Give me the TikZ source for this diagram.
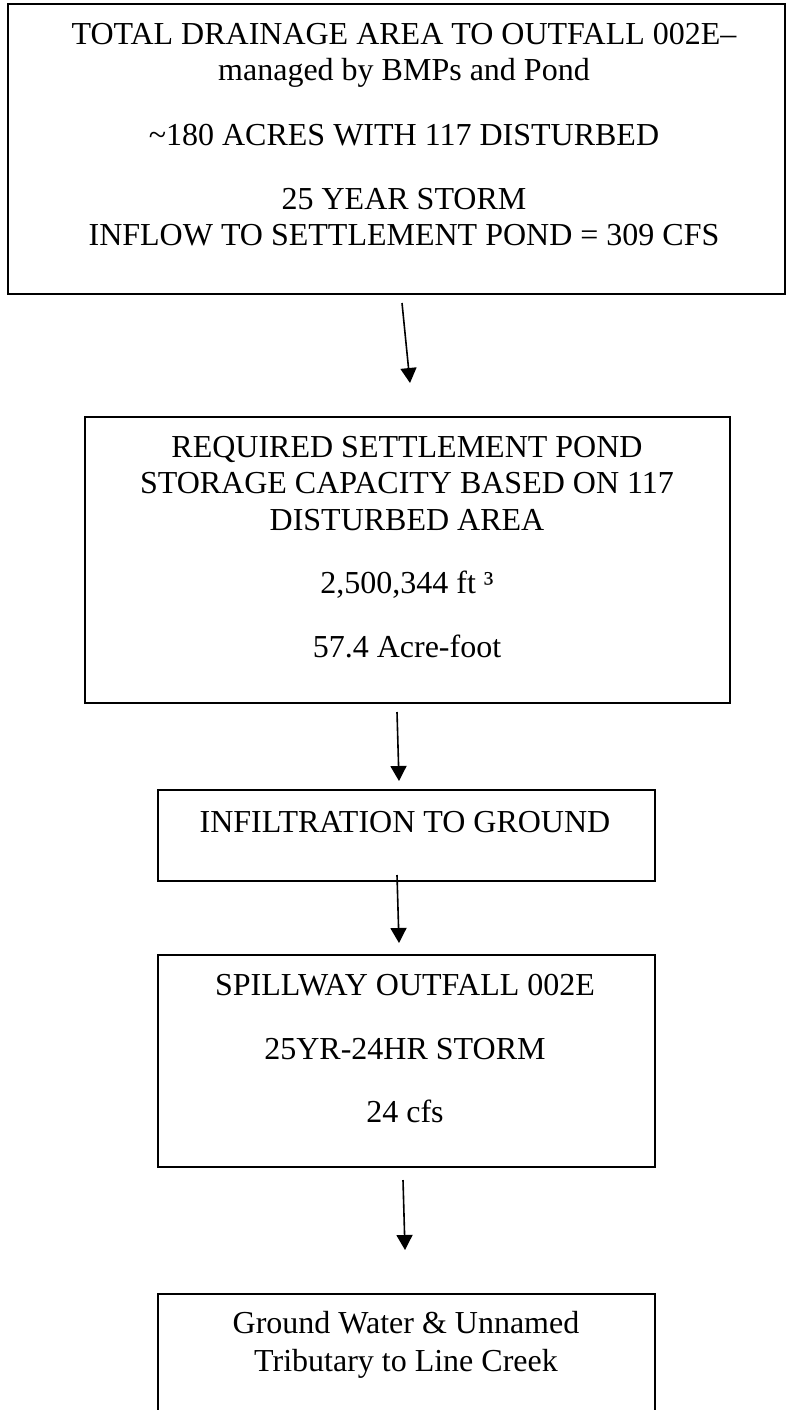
\documentclass[tikz,border=0pt]{standalone}
\usepackage{fontspec}
\setmainfont{Liberation Serif}
\usetikzlibrary{arrows.meta}
\begin{document}
\begin{tikzpicture}[x=1pt,y=-1pt,
  box/.style={draw=black, line width=2pt, rectangle, inner sep=0pt},
  txt/.style={anchor=base, inner sep=0pt, font=\fontsize{32}{36}\selectfont},
  flow/.style={line width=1.6pt, -{Triangle[width=16pt,length=15pt]}}]
\useasboundingbox (0,0) rectangle (787,1410);
\clip (0,0) rectangle (787,1410);

% boxes
\node[box, minimum width=777pt, minimum height=290pt] (b1) at (396.5,149) {};
\node[box, minimum width=645pt, minimum height=286pt] (b2) at (407.5,560) {};
\node[box, minimum width=497pt, minimum height=91pt] (b3) at (406.5,835.5) {};
\node[box, minimum width=497pt, minimum height=212pt] (b4) at (406.5,1061) {};
\node[box, minimum width=497pt, minimum height=146pt] (b5) at (406.5,1367) {};

% box 1 text
\node[txt] (t1a) at (404,45) {TOTAL DRAINAGE AREA TO OUTFALL 002E–};
\node[txt] (t1b) at (404,81) {managed by BMPs and Pond};
\node[txt] (t1c) at (404,146) {\textasciitilde180 ACRES WITH 117 DISTURBED};
\node[txt] (t1d) at (404,209) {25 YEAR STORM};
\node[txt] (t1e) at (404,245) {INFLOW TO SETTLEMENT POND = 309 CFS};

% box 2 text
\node[txt] (t2a) at (407,457) {REQUIRED SETTLEMENT POND};
\node[txt] (t2b) at (407,493) {STORAGE CAPACITY BASED ON 117};
\node[txt] (t2c) at (407,530) {DISTURBED AREA};
\node[txt] (t2d) at (407,593) {2,500,344 ft ³};
\node[txt] (t2e) at (407,657) {57.4 Acre-foot};

% box 3 text
\node[txt] (t3a) at (405,832) {INFILTRATION TO GROUND};

% box 4 text
\node[txt] (t4a) at (405,995) {SPILLWAY OUTFALL 002E};
\node[txt] (t4b) at (405,1059) {25YR-24HR STORM};
\node[txt] (t4c) at (405,1122) {24 cfs};

% box 5 text
\node[txt] (t5a) at (406,1333) {Ground Water \& Unnamed};
\node[txt] (t5b) at (406,1371) {Tributary to Line Creek};

% arrows
\coordinate (a1s) at (402,303);
\coordinate (a1e) at (410,383);
\coordinate (a2s) at (397,712);
\coordinate (a2e) at (399,781);
\coordinate (a3s) at (397,875);
\coordinate (a3e) at (399,943);
\coordinate (a4s) at (403,1180);
\coordinate (a4e) at (405,1250);
\draw[flow] (a1s) -- (a1e);
\draw[flow] (a2s) -- (a2e);
\draw[flow] (a3s) -- (a3e);
\draw[flow] (a4s) -- (a4e);
\end{tikzpicture}
\end{document}
